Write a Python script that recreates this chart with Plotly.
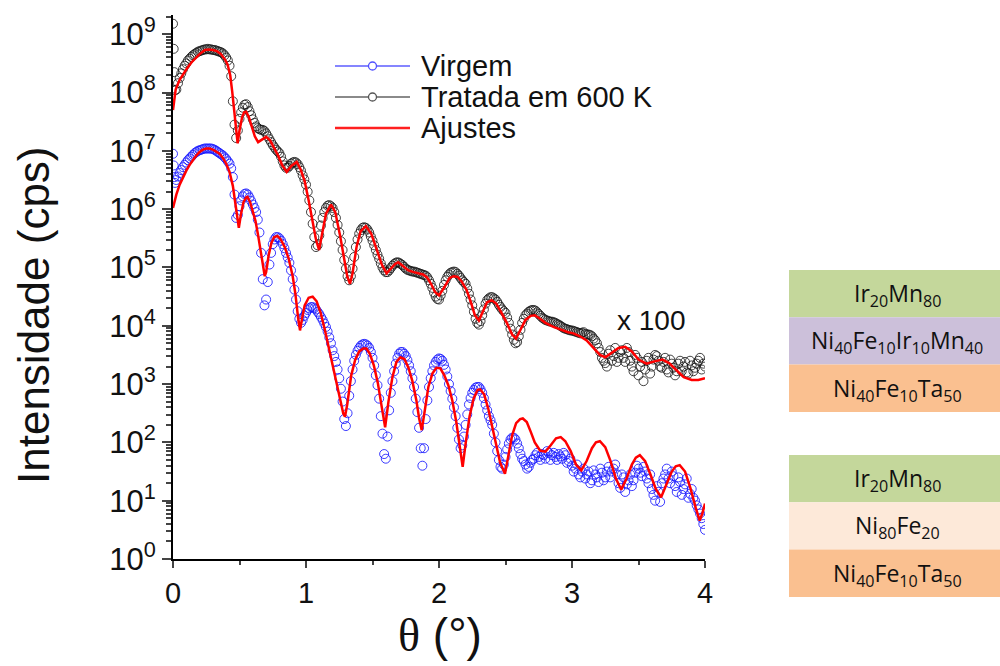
import numpy as np
import plotly.graph_objects as go

# ---------------- data (theta in degrees, log10 intensity) ----------------
virgem_theta = [0.0, 0.005, 0.01, 0.015, 0.025, 0.05, 0.075, 0.1, 0.125, 0.15, 0.175, 0.2, 0.225, 0.25, 0.275, 0.3,
                0.325, 0.35, 0.375, 0.4, 0.425, 0.45, 0.475, 0.5, 0.525, 0.55, 0.575, 0.6, 0.625, 0.65, 0.675, 0.7,
                0.725, 0.75, 0.775, 0.8, 0.825, 0.85, 0.875, 0.9, 0.925, 0.95, 0.975, 1.0, 1.025, 1.05, 1.075, 1.1,
                1.125, 1.15, 1.175, 1.2, 1.225, 1.25, 1.275, 1.3, 1.325, 1.35, 1.375, 1.4, 1.425, 1.45, 1.475, 1.5,
                1.525, 1.55, 1.575, 1.6, 1.625, 1.65, 1.675, 1.7, 1.725, 1.75, 1.775, 1.8, 1.825, 1.85, 1.875, 1.9,
                1.925, 1.95, 1.975, 2.0, 2.025, 2.05, 2.075, 2.1, 2.125, 2.15, 2.175, 2.2, 2.225, 2.25, 2.275, 2.3,
                2.325, 2.35, 2.375, 2.4, 2.425, 2.45, 2.475, 2.5, 2.525, 2.55, 2.575, 2.6, 2.625, 2.65, 2.675, 2.7,
                2.725, 2.75, 2.775, 2.8, 2.825, 2.85, 2.875, 2.9, 2.925, 2.95, 2.975, 3.0, 3.025, 3.05, 3.075, 3.1,
                3.125, 3.15, 3.175, 3.2, 3.225, 3.25, 3.275, 3.3, 3.325, 3.35, 3.375, 3.4, 3.425, 3.45, 3.475, 3.5,
                3.525, 3.55, 3.575, 3.6, 3.625, 3.65, 3.675, 3.7, 3.725, 3.75, 3.775, 3.8, 3.825, 3.85, 3.875, 3.9,
                3.925, 3.95, 3.975, 4.0]
virgem_log = [6.95, 6.75, 6.55, 6.45, 6.50, 6.62, 6.72, 6.80, 6.87, 6.93, 6.98, 7.01, 7.03, 7.04, 7.04, 7.03,
              7.00, 6.96, 6.92, 6.86, 6.78, 6.55, 5.85, 6.05, 6.22, 6.27, 6.20, 6.08, 5.95, 5.60, 4.80, 4.45,
              5.05, 5.40, 5.52, 5.50, 5.40, 5.25, 5.08, 4.80, 4.45, 4.12, 4.10, 4.22, 4.30, 4.32, 4.28, 4.20,
              4.10, 3.98, 3.80, 3.58, 3.38, 3.10, 2.70, 2.28, 2.80, 3.25, 3.50, 3.62, 3.68, 3.68, 3.62, 3.45,
              3.15, 2.75, 2.15, 1.72, 2.55, 3.05, 3.35, 3.52, 3.55, 3.48, 3.32, 3.10, 2.75, 2.25, 1.60, 2.40,
              2.95, 3.22, 3.38, 3.44, 3.40, 3.25, 3.00, 2.75, 2.45, 2.05, 1.95, 2.30, 2.65, 2.85, 2.94, 2.95,
              2.85, 2.65, 2.45, 2.30, 2.00, 1.70, 1.55, 1.75, 1.98, 2.08, 2.05, 1.90, 1.72, 1.62, 1.58, 1.70,
              1.78, 1.75, 1.80, 1.72, 1.82, 1.78, 1.75, 1.80, 1.72, 1.78, 1.68, 1.60, 1.55, 1.45, 1.50, 1.38,
              1.50, 1.35, 1.45, 1.32, 1.48, 1.40, 1.58, 1.50, 1.62, 1.30, 1.45, 1.15, 1.35, 1.25, 1.48, 1.55,
              1.42, 1.50, 1.30, 1.20, 1.00, 1.15, 1.30, 1.45, 1.38, 1.50, 1.25, 1.40, 1.10, 1.28, 1.05, 1.20,
              1.00, 0.85, 0.70, 0.50]

# intermediate measured points (between the samples above)
virgem_theta_mid = [0.0375, 0.0625, 0.0875, 0.1125, 0.1375, 0.1625, 0.1875, 0.2125, 0.2375, 0.2625, 0.2875,
                    0.3125, 0.3375, 0.3625, 0.3875, 0.4125, 0.4375, 0.4625, 0.4875, 0.5125, 0.5375, 0.5625,
                    0.5875, 0.6125, 0.6375, 0.6625, 0.6875, 0.7125, 0.7375, 0.7625, 0.7875, 0.8125, 0.8375,
                    0.8625, 0.8875, 0.9125, 0.9375, 0.9625, 0.9875, 1.0125, 1.0375, 1.0625, 1.0875, 1.1125,
                    1.1375, 1.1625, 1.1875, 1.2125, 1.2375, 1.2625, 1.2875, 1.3125, 1.3375, 1.3625, 1.3875,
                    1.4125, 1.4375, 1.4625, 1.4875, 1.5125, 1.5375, 1.5625, 1.5875, 1.6125, 1.6375, 1.6625,
                    1.6875, 1.7125, 1.7375, 1.7625, 1.7875, 1.8125, 1.8375, 1.8625, 1.8875, 1.9125, 1.9375,
                    1.9625, 1.9875, 2.0125, 2.0375, 2.0625, 2.0875, 2.1125, 2.1375, 2.1625, 2.1875, 2.2125,
                    2.2375, 2.2625, 2.2875, 2.3125, 2.3375, 2.3625, 2.3875, 2.4125, 2.4375, 2.4625, 2.4875,
                    2.5125, 2.5375, 2.5625, 2.5875, 2.6125, 2.6375, 2.6625, 2.6875, 2.7125, 2.7375, 2.7625,
                    2.7875, 2.8125, 2.8375, 2.8625, 2.8875, 2.9125, 2.9375, 2.9625, 2.9875, 3.0125, 3.0375,
                    3.0625, 3.0875, 3.1125, 3.1375, 3.1625, 3.1875, 3.2125, 3.2375, 3.2625, 3.2875, 3.3125,
                    3.3375, 3.3625, 3.3875, 3.4125, 3.4375, 3.4625, 3.4875, 3.5125, 3.5375, 3.5625, 3.5875,
                    3.6125, 3.6375, 3.6625, 3.6875, 3.7125, 3.7375, 3.7625, 3.7875, 3.8125, 3.8375, 3.8625,
                    3.8875, 3.9125, 3.9375, 3.9625, 3.9875]
virgem_log_mid = [6.56, 6.67, 6.76, 6.84, 6.90, 6.96, 7.00, 7.02, 7.04, 7.04, 7.04,
                  7.02, 6.98, 6.94, 6.89, 6.82, 6.70, 6.25, 5.90, 6.15, 6.26, 6.25,
                  6.14, 6.02, 5.82, 5.25, 4.35, 4.75, 5.25, 5.48, 5.52, 5.46, 5.33,
                  5.17, 4.95, 4.62, 4.25, 4.05, 4.17, 4.27, 4.32, 4.30, 4.24, 4.15,
                  4.04, 3.90, 3.70, 3.48, 3.25, 2.92, 2.40, 2.50, 3.05, 3.40, 3.57,
                  3.66, 3.69, 3.66, 3.55, 3.32, 2.98, 2.45, 1.80, 2.10, 2.85, 3.22,
                  3.45, 3.55, 3.52, 3.41, 3.22, 2.95, 2.52, 1.90, 1.90, 2.72, 3.10,
                  3.32, 3.42, 3.43, 3.33, 3.13, 2.88, 2.60, 2.25, 1.90, 2.10, 2.48,
                  2.76, 2.90, 2.95, 2.91, 2.76, 2.55, 2.38, 2.15, 1.85, 1.58, 1.62,
                  1.88, 2.05, 2.08, 1.98, 1.80, 1.68, 1.55, 1.65, 1.72, 1.82, 1.70,
                  1.78, 1.85, 1.70, 1.82, 1.70, 1.76, 1.82, 1.65, 1.72, 1.50, 1.62,
                  1.40, 1.55, 1.45, 1.30, 1.52, 1.40, 1.55, 1.35, 1.50, 1.40, 1.55,
                  1.45, 1.22, 1.40, 1.28, 1.45, 1.35, 1.60, 1.48, 1.58, 1.38, 1.45,
                  1.10, 1.25, 0.98, 1.38, 1.55, 1.30, 1.42, 1.15, 1.32, 1.20, 1.38,
                  1.12, 1.05, 0.92, 0.78, 0.60]

tratada_theta = virgem_theta
tratada_log = [9.18, 8.75, 8.35, 8.04, 8.05, 8.25, 8.40, 8.50, 8.58, 8.64, 8.68, 8.71, 8.73, 8.74, 8.74, 8.73,
               8.72, 8.70, 8.67, 8.60, 8.46, 7.85, 7.22, 7.55, 7.74, 7.80, 7.68, 7.54, 7.42, 7.37, 7.36, 7.30,
               7.20, 7.10, 7.02, 6.96, 6.82, 6.71, 6.74, 6.80, 6.80, 6.72, 6.58, 6.42, 6.15, 5.75, 5.35, 5.55,
               5.85, 6.02, 6.07, 6.02, 5.85, 5.60, 5.30, 4.98, 4.78, 4.98, 5.35, 5.58, 5.68, 5.68, 5.60, 5.46,
               5.30, 5.15, 5.00, 4.92, 4.95, 5.03, 5.08, 5.08, 5.04, 4.98, 4.95, 4.93, 4.92, 4.90, 4.88, 4.86,
               4.78, 4.65, 4.50, 4.45, 4.60, 4.78, 4.88, 4.92, 4.92, 4.86, 4.78, 4.72, 4.55, 4.35, 4.12, 4.02,
               4.18, 4.38, 4.47, 4.49, 4.45, 4.36, 4.28, 4.22, 4.05, 3.85, 3.70, 3.82, 4.05, 4.18, 4.24, 4.27,
               4.26, 4.20, 4.14, 4.10, 4.08, 4.07, 4.05, 4.02, 3.98, 3.95, 3.93, 3.92, 3.90, 3.88, 3.88, 3.86,
               3.85, 3.82, 3.75, 3.62, 3.45, 3.36, 3.52, 3.40, 3.62, 3.45, 3.58, 3.38, 3.55, 3.30, 3.50, 3.15,
               3.38, 3.25, 3.45, 3.30, 3.50, 3.40, 3.28, 3.45, 3.20, 3.35, 3.15, 3.35, 3.22, 3.38, 3.18, 3.32,
               3.28, 3.40, 3.25, 3.30]

tratada_theta_mid = virgem_theta_mid
tratada_log_mid = [8.16, 8.33, 8.46, 8.55, 8.61, 8.66, 8.70, 8.72, 8.74, 8.75, 8.74,
                   8.73, 8.71, 8.69, 8.64, 8.55, 8.28, 7.45, 7.35, 7.66, 7.79, 7.75,
                   7.61, 7.48, 7.39, 7.36, 7.34, 7.25, 7.15, 7.06, 6.99, 6.90, 6.75,
                   6.71, 6.78, 6.81, 6.77, 6.66, 6.51, 6.30, 5.95, 5.52, 5.38, 5.72,
                   5.95, 6.06, 6.05, 5.95, 5.73, 5.45, 5.13, 4.85, 4.85, 5.18, 5.48,
                   5.64, 5.69, 5.65, 5.53, 5.38, 5.22, 5.07, 4.95, 4.92, 4.99, 5.06,
                   5.09, 5.06, 5.01, 4.96, 4.94, 4.93, 4.91, 4.89, 4.87, 4.83, 4.72,
                   4.57, 4.46, 4.52, 4.70, 4.84, 4.91, 4.93, 4.89, 4.82, 4.75, 4.64,
                   4.45, 4.24, 4.05, 4.08, 4.28, 4.44, 4.49, 4.47, 4.41, 4.32, 4.25,
                   4.14, 3.95, 3.76, 3.72, 3.93, 4.12, 4.21, 4.26, 4.27, 4.23, 4.17,
                   4.12, 4.09, 4.07, 4.06, 4.03, 4.00, 3.96, 3.94, 3.92, 3.91, 3.89,
                   3.87, 3.89, 3.85, 3.84, 3.78, 3.70, 3.55, 3.40, 3.30, 3.58, 3.48,
                   3.38, 3.55, 3.45, 3.62, 3.40, 3.22, 3.45, 3.30, 3.05, 3.40, 3.18,
                   3.42, 3.48, 3.30, 3.38, 3.25, 3.42, 3.28, 3.22, 3.40, 3.30, 3.20,
                   3.40, 3.22, 3.35, 3.45, 3.35]

fit_virgem_theta = [0.0, 0.025, 0.05, 0.075, 0.1, 0.125, 0.15, 0.175, 0.2, 0.225, 0.25, 0.275, 0.3, 0.325, 0.35,
                    0.375, 0.4, 0.425, 0.45, 0.47, 0.485, 0.495, 0.51, 0.53, 0.55, 0.56, 0.58, 0.6, 0.62, 0.64,
                    0.66, 0.68, 0.69, 0.7, 0.72, 0.74, 0.76, 0.785, 0.81, 0.84, 0.87, 0.9, 0.92, 0.94, 0.955,
                    0.97, 0.99, 1.02, 1.05, 1.08, 1.11, 1.14, 1.17, 1.2, 1.23, 1.26, 1.28, 1.293, 1.31, 1.34,
                    1.37, 1.4, 1.43, 1.455, 1.48, 1.51, 1.54, 1.57, 1.595, 1.62, 1.65, 1.68, 1.71, 1.74, 1.77,
                    1.8, 1.83, 1.85, 1.87, 1.89, 1.92, 1.95, 1.98, 2.01, 2.04, 2.07, 2.1, 2.13, 2.16, 2.178,
                    2.2, 2.23, 2.26, 2.29, 2.31, 2.34, 2.37, 2.4, 2.43, 2.46, 2.496, 2.52, 2.55, 2.58, 2.61,
                    2.63, 2.66, 2.69, 2.72, 2.76, 2.8, 2.84, 2.88, 2.915, 2.95, 2.99, 3.03, 3.07, 3.11, 3.15,
                    3.18, 3.21, 3.25, 3.29, 3.33, 3.37, 3.41, 3.45, 3.48, 3.51, 3.55, 3.59, 3.63, 3.67, 3.71,
                    3.75, 3.78, 3.81, 3.85, 3.89, 3.93, 3.96, 3.98, 4.0]
fit_virgem_log = [6.02, 6.25, 6.42, 6.55, 6.66, 6.76, 6.85, 6.92, 6.98, 7.02, 7.04, 7.04, 7.02, 6.99, 6.95,
                  6.88, 6.78, 6.64, 6.40, 6.08, 5.80, 5.68, 5.90, 6.12, 6.20, 6.21, 6.12, 5.98, 5.80, 5.55,
                  5.25, 4.95, 4.85, 4.92, 5.22, 5.42, 5.52, 5.54, 5.48, 5.35, 5.15, 4.85, 4.55, 4.15, 3.92,
                  4.12, 4.35, 4.48, 4.50, 4.42, 4.22, 3.95, 3.65, 3.35, 3.00, 2.70, 2.50, 2.44, 2.65, 3.15,
                  3.42, 3.56, 3.61, 3.61, 3.52, 3.32, 3.02, 2.60, 2.26, 2.70, 3.12, 3.38, 3.46, 3.43, 3.28,
                  3.05, 2.72, 2.42, 2.21, 2.50, 2.95, 3.18, 3.28, 3.27, 3.15, 2.98, 2.72, 2.35, 1.85, 1.58,
                  1.98, 2.45, 2.75, 2.90, 2.91, 2.82, 2.58, 2.28, 1.95, 1.65, 1.46, 1.75, 2.12, 2.33, 2.40,
                  2.41, 2.35, 2.18, 2.00, 1.86, 1.84, 1.95, 2.07, 2.09, 2.02, 1.85, 1.62, 1.52, 1.68, 1.90,
                  2.00, 2.02, 1.92, 1.68, 1.38, 1.19, 1.38, 1.62, 1.74, 1.78, 1.68, 1.45, 1.20, 1.06, 1.28,
                  1.50, 1.59, 1.61, 1.50, 1.22, 0.88, 0.66, 0.78, 0.95]

fit_tratada_theta = [0.0, 0.02, 0.05, 0.08, 0.11, 0.14, 0.17, 0.2, 0.24, 0.27, 0.3, 0.33, 0.36, 0.39, 0.41, 0.43,
                     0.445, 0.46, 0.475, 0.486, 0.5, 0.52, 0.535, 0.55, 0.57, 0.59, 0.615, 0.64, 0.67, 0.7,
                     0.73, 0.76, 0.79, 0.82, 0.855, 0.89, 0.93, 0.96, 0.99, 1.02, 1.05, 1.075, 1.098, 1.12,
                     1.15, 1.188, 1.22, 1.256, 1.29, 1.31, 1.331, 1.35, 1.38, 1.41, 1.45, 1.49, 1.53, 1.57,
                     1.606, 1.64, 1.67, 1.694, 1.73, 1.77, 1.81, 1.85, 1.88, 1.91, 1.94, 1.97, 2.0, 2.04, 2.08,
                     2.11, 2.14, 2.17, 2.208, 2.24, 2.27, 2.3, 2.33, 2.36, 2.395, 2.43, 2.47, 2.51, 2.55, 2.579,
                     2.61, 2.65, 2.69, 2.72, 2.76, 2.8, 2.86, 2.92, 2.97, 3.01, 3.06, 3.11, 3.16, 3.21, 3.25,
                     3.3, 3.35, 3.4, 3.45, 3.5, 3.56, 3.62, 3.68, 3.73, 3.78, 3.84, 3.9, 3.95, 4.0]
fit_tratada_log = [7.70, 8.05, 8.22, 8.33, 8.43, 8.52, 8.59, 8.66, 8.73, 8.74, 8.73, 8.71, 8.66, 8.57, 8.48, 8.30,
                   8.02, 7.70, 7.32, 7.13, 7.35, 7.58, 7.66, 7.67, 7.58, 7.44, 7.25, 7.15, 7.20, 7.24,
                   7.18, 7.05, 6.92, 6.76, 6.64, 6.74, 6.81, 6.68, 6.48, 6.15, 5.80, 5.48, 5.30, 5.58,
                   5.92, 6.08, 5.95, 5.55, 5.10, 4.85, 4.72, 4.90, 5.35, 5.62, 5.71, 5.58, 5.32, 5.05,
                   4.90, 4.98, 5.06, 5.09, 5.03, 4.95, 4.92, 4.90, 4.88, 4.83, 4.72, 4.58, 4.52, 4.66, 4.82,
                   4.85, 4.84, 4.76, 4.61, 4.40, 4.18, 4.09, 4.25, 4.40, 4.44, 4.38, 4.22, 4.05, 3.85, 3.78,
                   3.92, 4.10, 4.17, 4.18, 4.12, 4.05, 3.98, 3.93, 3.89, 3.87, 3.82, 3.75, 3.62, 3.50, 3.46,
                   3.54, 3.62, 3.64, 3.56, 3.42, 3.35, 3.39, 3.42, 3.36, 3.25, 3.12, 3.07, 3.07, 3.10]

y_tick_vals = [1, 1e1, 1e2, 1e3, 1e4, 1e5, 1e6, 1e7, 1e8, 1e9]
y_tick_text = ["10<sup>%d</sup>" % k for k in range(10)]

legend_names = ["Virgem", "Tratada em 600 K", "Ajustes"]

stack_top = [("Ir<sub>20</sub>Mn<sub>80</sub>", "#c4d79b"),
             ("Ni<sub>40</sub>Fe<sub>10</sub>Ir<sub>10</sub>Mn<sub>40</sub>", "#ccc0da"),
             ("Ni<sub>40</sub>Fe<sub>10</sub>Ta<sub>50</sub>", "#fac090")]
stack_bottom = [("Ir<sub>20</sub>Mn<sub>80</sub>", "#c4d79b"),
                ("Ni<sub>80</sub>Fe<sub>20</sub>", "#fde9d9"),
                ("Ni<sub>40</sub>Fe<sub>10</sub>Ta<sub>50</sub>", "#fac090")]

# ---------------- figure ----------------
W, H = 1000, 666
ML, MR, MT, MB = 173, 295, 15, 107
PW, PH = W - ML - MR, H - MT - MB
FONT = "Liberation Sans, Arial, sans-serif"


def px_x(p):
    return (p - ML) / PW


def px_y(p):
    return (H - MB - p) / PH


blue_marker = dict(symbol="circle-open", size=9, color="rgba(25,25,255,0.85)", line=dict(width=1))
black_marker = dict(symbol="circle-open", size=9, color="rgba(20,20,20,0.8)", line=dict(width=1))

fig = go.Figure()
fig.add_trace(go.Scatter(x=list(virgem_theta) + list(virgem_theta_mid),
                         y=np.power(10.0, list(virgem_log) + list(virgem_log_mid)),
                         mode="markers", marker=blue_marker, name=legend_names[0], showlegend=False))
fig.add_trace(go.Scatter(x=list(tratada_theta) + list(tratada_theta_mid),
                         y=np.power(10.0, list(tratada_log) + list(tratada_log_mid)),
                         mode="markers", marker=black_marker, name=legend_names[1], showlegend=False))
fig.add_trace(go.Scatter(x=fit_virgem_theta, y=np.power(10.0, fit_virgem_log), mode="lines",
                         line=dict(color="#ff0000", width=2.5), name=legend_names[2], showlegend=False))
fig.add_trace(go.Scatter(x=fit_tratada_theta, y=np.power(10.0, fit_tratada_log), mode="lines",
                         line=dict(color="#ff0000", width=2.5), name=legend_names[2], showlegend=False))

shapes = []
annotations = []

# legend (drawn in page pixels to reproduce the long line samples of the original)
legend_rows = [66, 97, 128]
legend_line_colors = ["#8585ff", "#8a8a8a", "#ff2020"]
legend_marker_colors = ["#5050ff", "#555555", None]
for name, row, lc, mc in zip(legend_names, legend_rows, legend_line_colors, legend_marker_colors):
    shapes.append(dict(type="line", xref="paper", yref="paper", x0=px_x(335), x1=px_x(410),
                       y0=px_y(row), y1=px_y(row), line=dict(color=lc, width=2.5 if mc is None else 2)))
    if mc is not None:
        shapes.append(dict(type="circle", xref="paper", yref="paper", xsizemode="pixel", ysizemode="pixel",
                           xanchor=px_x(372.5), yanchor=px_y(row), x0=-4, x1=4, y0=-4, y1=4,
                           fillcolor="white", line=dict(color=mc, width=1.3)))
    annotations.append(dict(xref="paper", yref="paper", x=px_x(419), y=px_y(row), text=name,
                            showarrow=False, xanchor="left", yanchor="middle",
                            font=dict(family=FONT, size=29, color="#111111")))

box_left, box_right = px_x(789), px_x(1000)
for stack, top in ((stack_top, 270), (stack_bottom, 455)):
    for i, (label, color) in enumerate(stack):
        y0 = top + i * 47.3
        y1 = y0 + 47.3
        shapes.append(dict(type="rect", xref="paper", yref="paper", x0=box_left, x1=box_right,
                           y0=px_y(y1), y1=px_y(y0), fillcolor=color, line=dict(width=0), layer="below"))
        annotations.append(dict(xref="paper", yref="paper", x=px_x(897), y=px_y((y0 + y1) / 2 + 1),
                                text=label, showarrow=False, xanchor="center", yanchor="middle",
                                font=dict(family="Open Sans, sans-serif", size=23, color="#111111")))

annotations.append(dict(xref="paper", yref="paper", x=px_x(651), y=px_y(320), text="x 100",
                        showarrow=False, xanchor="center", yanchor="middle",
                        font=dict(family=FONT, size=28, color="#111111")))
annotations.append(dict(xref="paper", yref="paper", x=px_x(440), y=px_y(635),
                        text='<span style="font-family:Liberation Serif">θ</span> (°)',
                        showarrow=False, xanchor="center", yanchor="middle",
                        font=dict(family=FONT, size=46, color="#111111")))
annotations.append(dict(xref="paper", yref="paper", x=px_x(33), y=px_y(315), text="Intensidade (cps)",
                        textangle=-90, showarrow=False, xanchor="center", yanchor="middle",
                        font=dict(family=FONT, size=44, color="#111111")))

minor_y = [k * 10 ** d for d in range(0, 10) for k in range(2, 10) if k * 10 ** d <= 2.2e9]

fig.update_layout(
    width=W, height=H,
    margin=dict(l=ML, r=MR, t=MT, b=MB),
    paper_bgcolor="white", plot_bgcolor="white",
    font=dict(family=FONT, color="#111111"),
    showlegend=False,
    shapes=shapes,
    annotations=annotations,
    xaxis=dict(range=[0, 4], tickvals=[0, 1, 2, 3, 4], ticks="outside", ticklen=7, tickwidth=2,
               showline=True, linecolor="black", linewidth=2, showgrid=False, zeroline=False,
               tickfont=dict(size=29, family=FONT), mirror=False,
               minor=dict(tickvals=[0.5, 1.5, 2.5, 3.5], ticks="outside", ticklen=4, tickwidth=2,
                          showgrid=False)),
    yaxis=dict(type="log", range=[0, 9.33], tickvals=y_tick_vals, ticktext=y_tick_text,
               ticks="outside", ticklen=9, tickwidth=2, showline=True, linecolor="black", linewidth=2,
               showgrid=False, zeroline=False, tickfont=dict(size=31, family=FONT),
               minor=dict(tickvals=minor_y, ticks="outside", ticklen=5, tickwidth=1.5, showgrid=False)),
)

fig.write_html("out.html")
